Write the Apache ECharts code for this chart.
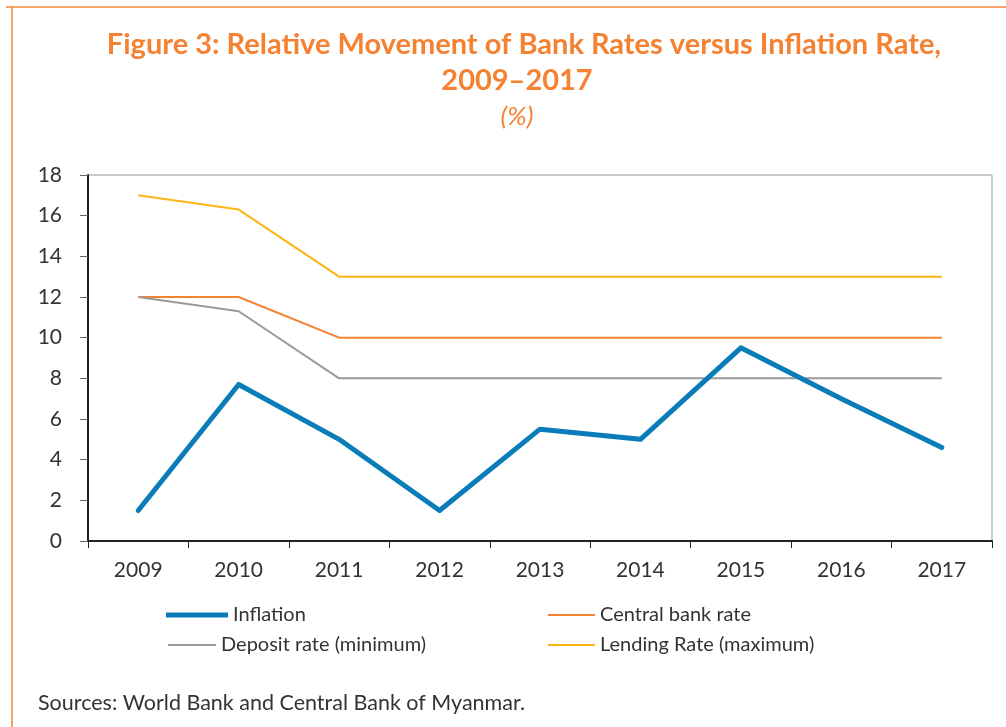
<!DOCTYPE html>
<html><head><meta charset="utf-8">
<script src="https://cdn.jsdelivr.net/npm/echarts@6/dist/echarts.min.js"></script>
<style>html,body{margin:0;padding:0;background:#fff}#c{width:1006px;height:727px}</style>
</head><body><div id="c"></div>
<script>
const years = ['2009','2010','2011','2012','2013','2014','2015','2016','2017'];
const inflation = [1.5, 7.7, 5.0, 1.5, 5.5, 5.0, 9.5, 7.0, 4.6];
const centralBank = [12, 12, 10, 10, 10, 10, 10, 10, 10];
const depositMin = [12, 11.3, 8, 8, 8, 8, 8, 8, 8];
const lendingMax = [17, 16.3, 13, 13, 13, 13, 13, 13, 13];
const yTicks = [0, 2, 4, 6, 8, 10, 12, 14, 16, 18];

const FONT = 'Lato';
const legTxt = { fontFamily: FONT, fontSize: 20, color: '#333' };
function leg(name, left, top, w, h) {
  return { data: [name], left: left, top: top, icon: 'rect', itemWidth: w, itemHeight: h, itemGap: 0,
    textStyle: legTxt, padding: 0 };
}
const chart = echarts.init(document.getElementById('c'));
chart.setOption({
  animation: false,
  backgroundColor: '#fff',
  grid: { left: 88, right: 14, top: 175, bottom: 186, show: true, borderColor: '#999', borderWidth: 1 },
  legend: [
    leg('Inflation', 166, 605, 62, 5),
    leg('Deposit rate (minimum)', 168, 635, 48, 2),
    leg('Central bank rate', 548, 605, 47, 2),
    leg('Lending Rate (maximum)', 548, 635, 47, 2)
  ],
  xAxis: {
    type: 'category', data: years, boundaryGap: true,
    axisLine: { lineStyle: { color: '#222', width: 2 } },
    axisTick: { show: true, length: 7, lineStyle: { color: '#222', width: 1 } },
    axisLabel: { fontFamily: FONT, fontSize: 21, color: '#333', margin: 19 }
  },
  yAxis: {
    type: 'value', min: 0, max: 18, interval: 2,
    axisLine: { show: true, lineStyle: { color: '#222', width: 2 } },
    axisTick: { show: true, length: 8, lineStyle: { color: '#666' } },
    splitLine: { show: false },
    axisLabel: { fontFamily: FONT, fontSize: 21, color: '#333', margin: 26,
      formatter: v => yTicks.includes(v) ? String(v) : '' }
  },
  series: [
    { name: 'Inflation', type: 'line', data: inflation, symbol: 'none', z: 5,
      lineStyle: { color: '#0A7DB8', width: 5, cap: 'round', join: 'round' }, itemStyle: { color: '#0A7DB8' } },
    { name: 'Central bank rate', type: 'line', data: centralBank, symbol: 'none',
      lineStyle: { color: '#F58232', width: 2 }, itemStyle: { color: '#F58232' } },
    { name: 'Deposit rate (minimum)', type: 'line', data: depositMin, symbol: 'none',
      lineStyle: { color: '#9A9A9A', width: 2 }, itemStyle: { color: '#9A9A9A' } },
    { name: 'Lending Rate (maximum)', type: 'line', data: lendingMax, symbol: 'none',
      lineStyle: { color: '#FDB515', width: 2 }, itemStyle: { color: '#FDB515' } }
  ],
  graphic: [
    { type: 'line', shape: { x1: 6, y1: 7, x2: 1006, y2: 7 }, style: { stroke: '#F8A56C', lineWidth: 2 } },
    { type: 'line', shape: { x1: 12, y1: 7, x2: 12, y2: 727 }, style: { stroke: '#F58232', lineWidth: 1.5 } },
    { type: 'text', x: 524, y: 45, style: { text: 'Figure 3: Relative Movement of Bank Rates versus Inflation Rate,', align: 'center', verticalAlign: 'middle', fontFamily: FONT, fontWeight: 'bold', fontSize: 29, fill: '#F58232' } },
    { type: 'text', x: 517, y: 81, style: { text: '2009–2017', align: 'center', verticalAlign: 'middle', fontFamily: FONT, fontWeight: 'bold', fontSize: 29, fill: '#F58232' } },
    { type: 'text', x: 517, y: 117, style: { text: '(%)', align: 'center', verticalAlign: 'middle', fontFamily: FONT, fontStyle: 'italic', fontSize: 26, fill: '#F58232' } },
    { type: 'text', left: 38, top: 692, style: { text: 'Sources: World Bank and Central Bank of Myanmar.', fontFamily: FONT, fontSize: 21.5, fill: '#333' } }
  ]
});
</script></body></html>
